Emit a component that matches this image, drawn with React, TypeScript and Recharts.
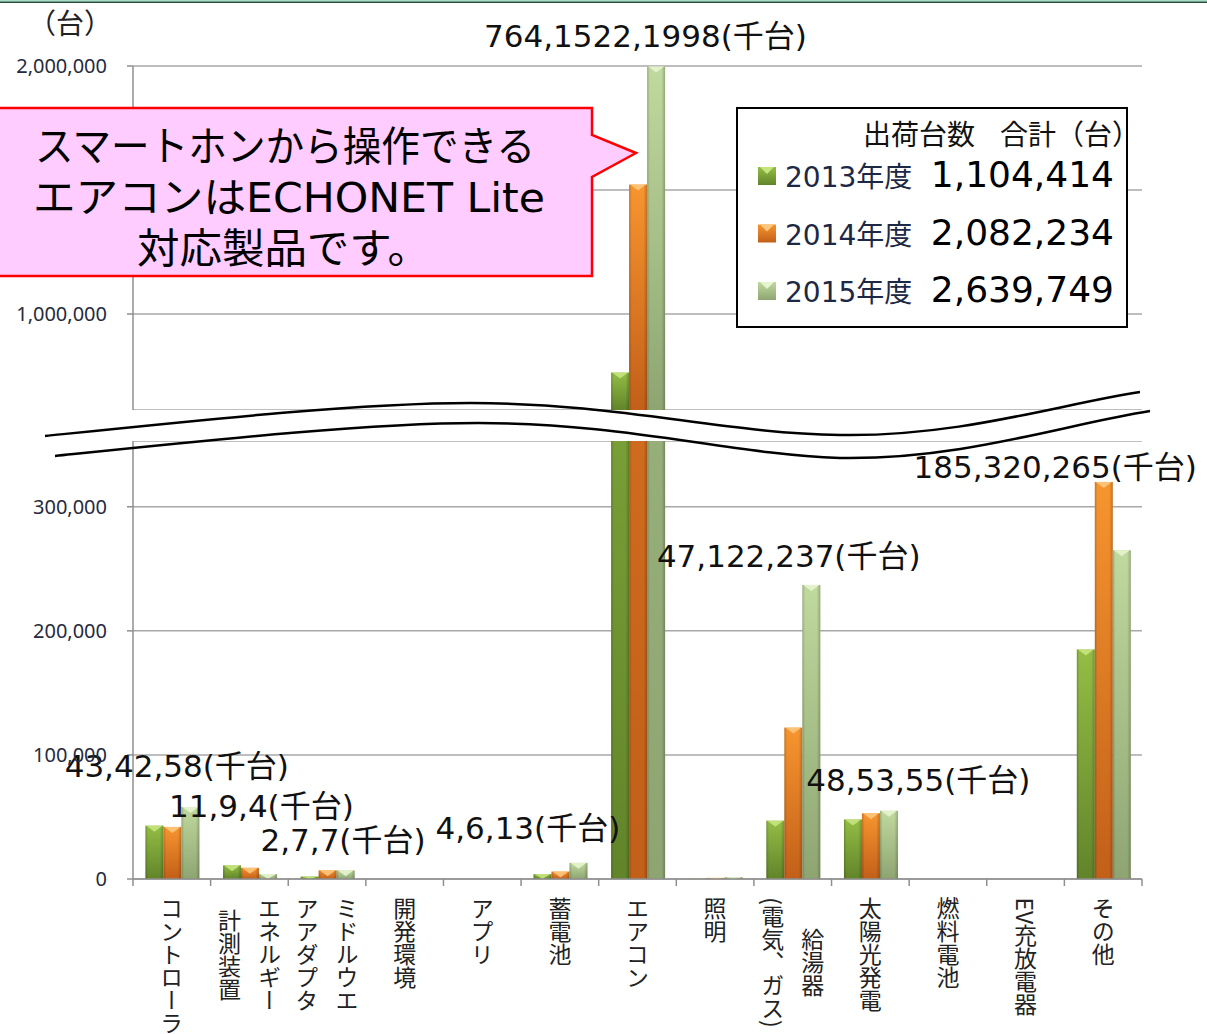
import React from 'react';
import { BarChart, Bar, XAxis, YAxis, CartesianGrid, ReferenceDot } from 'recharts';

// categories on the x axis (data keys)
const categories = [
  'コントローラ', 'エネルギー計測装置', 'ミドルウエアアダプタ', '開発環境', 'アプリ', '蓄電池',
  'エアコン', '照明', '給湯器(電気、ガス)', '太陽光発電', '燃料電池', 'EV充放電器', 'その他',
];
// vertical tick text, columns listed right to left
const tickLines = [
  ['コントローラ'], ['エネルギー', '計測装置'], ['ミドルウエ', 'アアダプタ'], ['開発環境'], ['アプリ'], ['蓄電池'],
  ['エアコン'], ['照明'], ['給湯器', '(電気、ガス)'], ['太陽光発電'], ['燃料電池'], ['EV充放電器'], ['その他'],
];
const seriesNames = ['2013年度', '2014年度', '2015年度'];
const fy2013 = [43000, 11000, 2000, 0, 0, 4000, 764000, 400, 47000, 48000, 0, 0, 185000];
const fy2014 = [42000, 9000, 7000, 0, 0, 6000, 1522000, 900, 122000, 53000, 0, 0, 320000];
const fy2015 = [58000, 4000, 7000, 0, 0, 13000, 1998000, 1500, 237000, 55000, 0, 0, 265000];
const totals = [1104414, 2082234, 2639749];
const upperTicks = [1000000, 1500000, 2000000];
const lowerTicks = [0, 100000, 200000, 300000];
const upperDomain = [613000, 2000000];
const lowerDomain = [0, 353000];
const calloutLines = ['スマートホンから操作できる', 'エアコンはECHONET Lite', '対応製品です。'];

// value labels above groups: where to nudge them
const annotations = [
  { cat: 'コントローラ', dx: 5, gap: 30 },
  { cat: 'エネルギー計測装置', dx: 12, gap: 48 },
  { cat: 'ミドルウエアアダプタ', dx: 16, gap: 19 },
  { cat: '蓄電池', dx: -32, gap: 24 },
  { cat: 'エアコン', dx: 8, gap: 19, upper: true },
  { cat: '給湯器(電気、ガス)', dx: -4, gap: 18 },
  { cat: '太陽光発電', dx: 48, gap: 20 },
  { cat: 'その他', dx: -48, gap: 4 },
];

const seriesKeys = ['fy2013', 'fy2014', 'fy2015'];
const seriesStyle = [
  { top: '#93bd45', bottom: '#62842a', bevel: '#c6e47e' },
  { top: '#f7952f', bottom: '#c25f19', bevel: '#fdc77c' },
  { top: '#c0d99e', bottom: '#8ea572', bevel: '#e6f4cf' },
];

const rows = categories.map((name, i) => ({ name, fy2013: fy2013[i], fy2014: fy2014[i], fy2015: fy2015[i] }));

const W = 1207;
const H = 1034;
const PLOT_LEFT = 133;
const PLOT_RIGHT = 1142;
const BAND = (PLOT_RIGHT - PLOT_LEFT) / categories.length;
const AXIS = '#8f8f8f';
const GRID = '#a8a8a8';
const JP = '"Noto Sans CJK JP", sans-serif';
const LATIN = '"DejaVu Sans", "Noto Sans CJK JP", sans-serif';
const X_FONT = 23;
const COL_GAP = 40;

const fmt = (v: number) => v.toLocaleString('en-US');
// 1,500,000 sits behind the callout in the original, so its text is left out
const fmtUpper = (v: number) => (v === 1500000 ? '' : fmt(v));

const emLength = (s: string) =>
  [...s].reduce((a, ch) => a + (ch === '(' || ch === ')' ? 0.35 : ch.charCodeAt(0) < 128 ? 0.6 : 1), 0);

const BarDefs = ({ prefix }: { prefix: string }) => (
  <defs>
    {seriesStyle.map((s, i) => (
      <linearGradient key={i} id={`${prefix}-v${i}`} x1="0" y1="0" x2="0" y2="1">
        <stop offset="0%" stopColor={s.top} />
        <stop offset="100%" stopColor={s.bottom} />
      </linearGradient>
    ))}
    <linearGradient id={`${prefix}-edge`} x1="0" y1="0" x2="1" y2="0">
      <stop offset="0" stopColor="#000" stopOpacity="0.2" />
      <stop offset="0.15" stopColor="#000" stopOpacity="0" />
      <stop offset="0.8" stopColor="#000" stopOpacity="0" />
      <stop offset="1" stopColor="#000" stopOpacity="0.22" />
    </linearGradient>
  </defs>
);

const makeShape = (prefix: string, s: number) => (p: any) => {
  const { x, y, width, height } = p;
  if (!height || height <= 0 || !width) return <g />;
  const bh = Math.min(6, height);
  return (
    <g>
      <rect x={x} y={y} width={width} height={height} fill={`url(#${prefix}-v${s})`} />
      <rect x={x} y={y} width={width} height={height} fill={`url(#${prefix}-edge)`} />
      <polygon
        points={`${x + 1},${y} ${x + width - 1},${y} ${x + width / 2},${y + bh}`}
        fill={seriesStyle[s].bevel}
        opacity={0.9}
      />
    </g>
  );
};

const renderBars = (prefix: string) =>
  seriesKeys.map((k, i) => (
    <Bar key={k} dataKey={k} name={seriesNames[i]} isAnimationActive={false} shape={makeShape(prefix, i)} />
  ));

const annoText = (cat: string) => {
  const i = categories.indexOf(cat);
  return `${fy2013[i] / 1000},${fy2014[i] / 1000},${fy2015[i] / 1000}(千台)`;
};

const renderAnnotations = (upper: boolean) =>
  annotations
    .filter((a) => !!a.upper === upper)
    .map((a) => {
      const i = categories.indexOf(a.cat);
      const top = Math.max(fy2013[i], fy2014[i], fy2015[i]);
      return (
        <ReferenceDot
          key={a.cat}
          x={a.cat}
          y={top}
          r={0}
          ifOverflow="visible"
          shape={(p: any) => (
            <text x={p.cx + a.dx} y={p.cy - a.gap} textAnchor="middle" fontSize={31} fontFamily={LATIN} fill="#111">
              {annoText(a.cat)}
            </text>
          )}
        />
      );
    });

const CategoryTick = (props: any) => {
  const { x, y, index } = props;
  const axisY = y - 8;
  const lines = tickLines[index] || [];
  const longest = Math.max(...lines.map(emLength));
  const cy = axisY + 18 + (longest * X_FONT) / 2;
  const n = lines.length;
  return (
    <g>
      <line x1={x - BAND / 2} y1={axisY} x2={x - BAND / 2} y2={axisY + 7} stroke={AXIS} strokeWidth={1.5} />
      {index === categories.length - 1 && (
        <line x1={x + BAND / 2} y1={axisY} x2={x + BAND / 2} y2={axisY + 7} stroke={AXIS} strokeWidth={1.5} />
      )}
      {lines.map((t, j) => (
        <text
          key={j}
          x={x + ((n - 1) / 2 - j) * COL_GAP}
          y={cy}
          textAnchor="middle"
          style={{ writingMode: 'vertical-rl' }}
          fontSize={X_FONT}
          fontFamily={JP}
          fill="#222"
        >
          {t}
        </text>
      ))}
    </g>
  );
};

const yTick = { fontSize: 20, fill: '#252b3d', fontFamily: '"Noto Sans", sans-serif' };

const upperWave = 'M45 436 C200 420 360 403 471 403 C620 403 720 433 840 435 C960 437 1060 404 1140 392';
const lowerWave = 'M55 456 C210 440 370 423 478 423 C628 423 728 454 840 458 C962 460 1066 424 1150 411';

// callout line placement: [left, right, baseline]
const calloutBoxes = [
  [35, 535, 161],
  [33, 545, 212],
  [137, 430, 263],
];

const App: React.FC = () => {
  return (
    <div style={{ position: 'relative', width: W, height: H, overflow: 'hidden', background: '#fff' }}>
      <style>{'body{margin:0}'}</style>

      <div style={{ position: 'absolute', left: 0, top: 0 }}>
        <BarChart
          width={W}
          height={410}
          data={rows}
          margin={{ top: 66, right: W - PLOT_RIGHT, left: 0, bottom: 0 }}
          barCategoryGap="16%"
          barGap={0}
        >
          <BarDefs prefix="up" />
          <CartesianGrid vertical={false} stroke={GRID} strokeWidth={1.5} />
          <XAxis dataKey="name" hide />
          <YAxis
            type="number"
            width={PLOT_LEFT}
            domain={upperDomain}
            allowDataOverflow
            ticks={upperTicks}
            tickFormatter={fmtUpper}
            tick={yTick}
            tickSize={6}
            tickMargin={20}
            stroke={AXIS}
            strokeWidth={1.5}
          />
          {renderBars('up')}
          {renderAnnotations(true)}
        </BarChart>
      </div>

      <div style={{ position: 'absolute', left: 0, top: 441 }}>
        <BarChart
          width={W}
          height={H - 441}
          data={rows}
          margin={{ top: 0, right: W - PLOT_RIGHT, left: 0, bottom: 0 }}
          barCategoryGap="16%"
          barGap={0}
        >
          <BarDefs prefix="lo" />
          <CartesianGrid vertical={false} stroke={GRID} strokeWidth={1.5} />
          <XAxis
            dataKey="name"
            height={155}
            interval={0}
            tickLine={false}
            tickSize={6}
            tickMargin={2}
            tick={CategoryTick}
            stroke={AXIS}
            strokeWidth={1.5}
          />
          <YAxis
            type="number"
            width={PLOT_LEFT}
            domain={lowerDomain}
            allowDataOverflow
            ticks={lowerTicks}
            tickFormatter={fmt}
            tick={yTick}
            tickSize={6}
            tickMargin={20}
            stroke={AXIS}
            strokeWidth={1.5}
          />
          {renderBars('lo')}
          {renderAnnotations(false)}
        </BarChart>
      </div>

      <svg width={W} height={H} style={{ position: 'absolute', left: 0, top: 0, pointerEvents: 'none' }}>
        <defs>
          {seriesStyle.map((s, i) => (
            <linearGradient key={i} id={`lg-v${i}`} x1="0" y1="0" x2="0" y2="1">
              <stop offset="0%" stopColor={s.top} />
              <stop offset="100%" stopColor={s.bottom} />
            </linearGradient>
          ))}
          <clipPath id="legend-clip">
            <rect x={737} y={108} width={390} height={219} />
          </clipPath>
        </defs>

        {/* frame line on top */}
        <rect x={0} y={0} width={W} height={1.5} fill="#a6dcc4" />
        <rect x={0} y={1.5} width={W} height={1.5} fill="#234d3e" />

        {/* unit */}
        <text x={70} y={34} textAnchor="middle" fontSize={28} fontFamily={JP} fill="#222">（台）</text>

        {/* axis break */}
        <path d={upperWave} stroke="#000" strokeWidth={2.5} fill="none" />
        <path d={lowerWave} stroke="#000" strokeWidth={2.5} fill="none" />

        {/* callout */}
        <path
          d="M-20 108 L592 108 L592 135 L636 153 L592 177 L592 276 L-20 276 Z"
          fill="#ffccff"
          stroke="#ff0000"
          strokeWidth={2.5}
        />
        {calloutLines.map((t, i) => {
          const [l, r, b] = calloutBoxes[i];
          return (
            <text
              key={i}
              x={l}
              y={b}
              textLength={r - l}
              lengthAdjust="spacingAndGlyphs"
              fontSize={41}
              fontFamily={LATIN}
              fill="#000"
            >
              {t}
            </text>
          );
        })}

        {/* legend with totals */}
        <rect x={737} y={108} width={390} height={219} fill="#fff" />
        <g clipPath="url(#legend-clip)">
          <text x={863} y={145} fontSize={28} fontFamily={JP} fill="#111">出荷台数</text>
          <text x={1000} y={145} fontSize={28} fontFamily={JP} fill="#111">合計（台）</text>
        </g>
        {seriesNames.map((n, i) => {
          const by = 187 + i * 57.5;
          return (
            <g key={n}>
              <rect x={758} y={by - 20} width={18} height={18} fill={`url(#lg-v${i})`} />
              <polygon points={`${760},${by - 20} ${774},${by - 20} ${767},${by - 13}`} fill={seriesStyle[i].bevel} />
              <text x={785} y={by} fontSize={28} fontFamily={LATIN} fill="#1d2845">{n}</text>
              <text x={1114} y={by} textAnchor="end" fontSize={36} fontFamily={LATIN} fill="#000">
                {fmt(totals[i])}
              </text>
            </g>
          );
        })}
        <rect x={737} y={108} width={390} height={219} fill="none" stroke="#000" strokeWidth={2} />
      </svg>
    </div>
  );
};

export default App;
